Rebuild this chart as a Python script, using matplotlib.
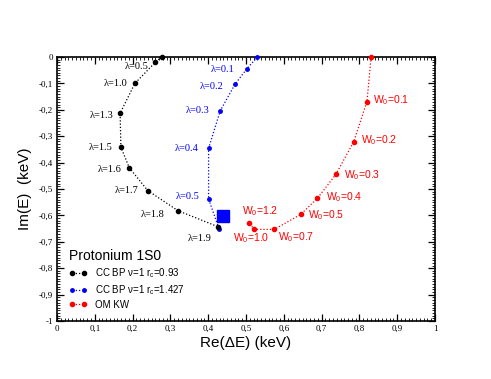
import numpy as np
import matplotlib
matplotlib.use("Agg")
import matplotlib.pyplot as plt
from matplotlib.ticker import MultipleLocator, FuncFormatter

#字体
plt.rcParams['font.family'] = ['Liberation Sans', 'DejaVu Sans']
plt.rcParams['mathtext.fontset'] = 'custom'
plt.rcParams['mathtext.rm'] = 'Liberation Sans'

#数据 CC BP rc=0.93 (黑)
bp1_x = [0.277, 0.260, 0.206, 0.167, 0.169, 0.191, 0.240, 0.320, 0.426]
bp1_y = [0.0, -0.020, -0.100, -0.213, -0.341, -0.419, -0.506, -0.582, -0.643]
bp1_lam = [None, "0.5", "1.0", "1.3", "1.5", "1.6", "1.7", "1.8", "1.9"]

#数据 CC BP rc=1.427 (蓝)
bp2_x = [0.530, 0.502, 0.471, 0.432, 0.401, 0.401, 0.429]
bp2_y = [0.0, -0.045, -0.103, -0.203, -0.346, -0.538, -0.652]
bp2_lam = [None, "0.1", "0.2", "0.3", "0.4", "0.5", None]

#数据 OM KW (红)
om_x = [0.831, 0.820, 0.785, 0.738, 0.689, 0.645, 0.575, 0.522, 0.508]
om_y = [0.0, -0.169, -0.321, -0.444, -0.535, -0.596, -0.653, -0.653, -0.630]
om_w0 = [None, "0.1", "0.2", "0.3", "0.4", "0.5", "0.7", "1.0", "1.2"]

#实验点
exp_x = [0.440]
exp_y = [-0.601]

#标签偏移 (像素: dx, dy向下)
bp1_off = [None, (-7, 4), (-7, 0), (-7, 2), (-8, 0), (-8, 2), (-9, 0), (-13, 4), (-6, 12)]
bp2_off = [None, (-12, 1), (-12, 2), (-11, 0), (-10, 0), (-9, -3), None]
om_off = [None, (6, -2), (7, -2), (8, 1), (9, -1), (7, 1), (4, 8), (-3, 9), (-7, -12)]
om_ha = [None, 'left', 'left', 'left', 'left', 'left', 'left', 'center', 'left']

fig = plt.figure(figsize=(4.91, 3.79), dpi=100)
ax = fig.add_axes([57/491, 1-321/379, (435-57)/491, (321-57)/379])

px = 0.72  #像素 -> points
dots = (0, (1, 1.6))

l1, = ax.plot(bp1_x, bp1_y, ls=dots, color='black', lw=0.9, marker='o', ms=3, zorder=4,
              clip_on=False, label="CC BP \u03bd=1 r$_\\mathregular{c}$=0.93")
l2, = ax.plot(bp2_x, bp2_y, ls=dots, color='blue', lw=0.9, marker='o', ms=2.5, zorder=3,
              clip_on=False, label="CC BP \u03bd=1 r$_\\mathregular{c}$=1.427")
l3, = ax.plot(om_x, om_y, ls=dots, color='red', lw=0.9, marker='o', ms=3, zorder=3,
              clip_on=False, label="OM KW")
ax.plot(exp_x, exp_y, 's', color='blue', ms=8, zorder=5)

serif = ['Liberation Serif', 'DejaVu Serif']
for x, y, t, o in zip(bp1_x, bp1_y, bp1_lam, bp1_off):
    if t is None:
        continue
    ax.annotate("\u03bb=" + t, (x, y), xytext=(o[0]*px, -o[1]*px), textcoords='offset points',
                ha='right', va='center', fontsize=7.5, family=serif, color='black')
for x, y, t, o in zip(bp2_x, bp2_y, bp2_lam, bp2_off):
    if t is None:
        continue
    ax.annotate("\u03bb=" + t, (x, y), xytext=(o[0]*px, -o[1]*px), textcoords='offset points',
                ha='right', va='center', fontsize=7.5, family=serif, color='blue')
for x, y, t, o, h in zip(om_x, om_y, om_w0, om_off, om_ha):
    if t is None:
        continue
    ax.annotate("W$_\\mathregular{0}$=" + t, (x, y), xytext=(o[0]*px, -o[1]*px),
                textcoords='offset points', ha=h, va='center', fontsize=7.5, color='red')

#坐标轴
ax.set_xlim(0, 1)
ax.set_ylim(-1, 0)
ax.xaxis.set_major_locator(MultipleLocator(0.1))
ax.xaxis.set_minor_locator(MultipleLocator(0.01))
ax.yaxis.set_major_locator(MultipleLocator(0.1))
ax.yaxis.set_minor_locator(MultipleLocator(0.01))
fmt = FuncFormatter(lambda v, p: ('%g' % round(v, 2)).replace('.', ','))
ax.xaxis.set_major_formatter(fmt)
ax.yaxis.set_major_formatter(fmt)
ax.tick_params(which='both', direction='in', top=True, right=True)
ax.tick_params(which='major', length=5, width=0.9, pad=3, labelsize=6.5)
ax.tick_params(which='minor', length=2.5, width=0.6)
for lab in ax.get_xticklabels() + ax.get_yticklabels():
    lab.set_family(serif)
for s in ax.spines.values():
    s.set_linewidth(1.2)

ax.set_xlabel("Re(\u0394E) (keV)", fontsize=11, labelpad=2)
ax.set_ylabel("Im(E)  (keV)", fontsize=11, labelpad=5)

leg = ax.legend(handles=[l1, l2, l3], title="Protonium 1S0", loc='upper left',
                bbox_to_anchor=(0.02, 0.29), frameon=False, fontsize=7, title_fontsize=10,
                numpoints=2, handlelength=1.8, handletextpad=0.8, labelspacing=0.3,
                borderpad=0, alignment='left')

plt.savefig("out.png", dpi=100)
